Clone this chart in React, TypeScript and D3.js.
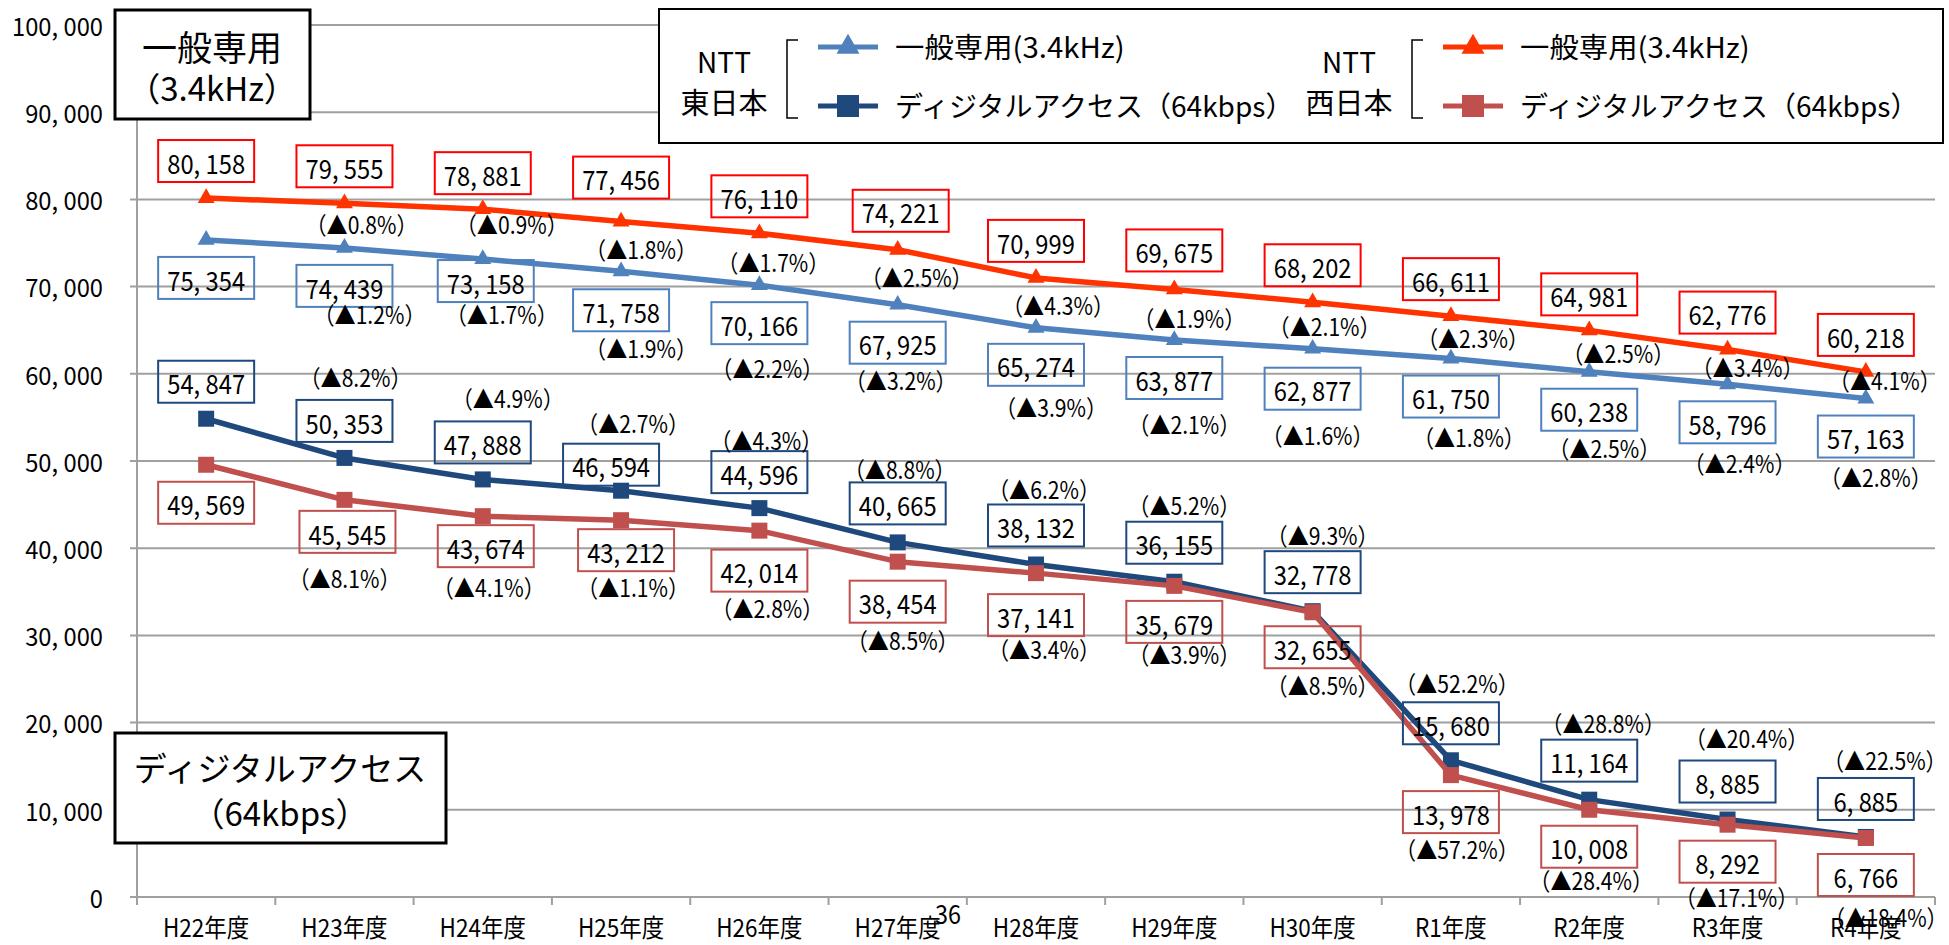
import React from "react";
import * as d3 from "d3";

const categories = ["H22年度","H23年度","H24年度","H25年度","H26年度","H27年度","H28年度","H29年度","H30年度","R1年度","R2年度","R3年度","R4年度"];
const eastGeneral = [75354,74439,73158,71758,70166,67925,65274,63877,62877,61750,60238,58796,57163];
const eastDigital = [54847,50353,47888,46594,44596,40665,38132,36155,32778,15680,11164,8885,6885];
const westGeneral = [80158,79555,78881,77456,76110,74221,70999,69675,68202,66611,64981,62776,60218];
const westDigital = [49569,45545,43674,43212,42014,38454,37141,35679,32655,13978,10008,8292,6766];
const eastGeneralPct = [null,1.2,1.7,1.9,2.2,3.2,3.9,2.1,1.6,1.8,2.5,2.4,2.8];
const eastDigitalPct = [null,8.2,4.9,2.7,4.3,8.8,6.2,5.2,9.3,52.2,28.8,20.4,22.5];
const westGeneralPct = [null,0.8,0.9,1.8,1.7,2.5,4.3,1.9,2.1,2.3,2.5,3.4,4.1];
const westDigitalPct = [null,8.1,4.1,1.1,2.8,8.5,3.4,3.9,8.5,57.2,28.4,17.1,18.4];
const yTicks = [0,10000,20000,30000,40000,50000,60000,70000,80000,90000,100000];

// label layout offsets (pixels relative to each point)
const wgValDy = [-37,-37,-36,-44,-37,-39,-37,-39,-37,-37,-36,-37,-37];
const wgValDx = [0,0,0,0,0,3,0,0,0,0,0,0,0];
const wgPctOff = [[0,0],[17,21],[29,15],[20,27],[14,29],[19,27],[22,27],[15,28],[12,24],[22,22],[29,23],[20,17],[19,8]];
const egValDy = [38,38,22,39,38,38,37,38,40,38,38,38,38];
const egValDx = [0,0,3,0,0,0,0,0,0,0,0,0,0];
const egPctOff = [[0,0],[25,66],[19,55],[20,77],[8,83],[3,75],[15,79],[10,84],[5,86],[18,78],[15,76],[12,79],[10,78]];
const edValDy = [-37,-37,-37,-26,-36,-39,-39,-39,-39,-37,-39,-38,-38];
const edValDx = [0,0,0,-10,0,0,0,0,0,0,0,0,0];
const edPctOff = [[0,0],[11,-81],[25,-82],[12,-68],[7,-68],[2,-73],[8,-76],[10,-77],[10,-76],[6,-77],[14,-77],[19,-82],[19,-77]];
const wdValDy = [38,32,30,30,40,40,42,36,35,37,37,37,37];
const wdValDx = [0,3,3,5,0,0,0,0,0,0,0,0,0];
const wdPctOff = [[0,0],[0,78],[6,71],[12,67],[8,77],[5,78],[8,76],[10,68],[10,73],[6,74],[2,70],[9,72],[20,79]];

const FONT = "'Noto Sans CJK JP', 'Noto Sans', sans-serif";

function T({ x, y, size, sx = 1, anchor = "middle", children, fill = "#000" }: any) {
  return (
    <text
      transform={`translate(${x},${y}) scale(${sx},1)`}
      fontSize={size}
      textAnchor={anchor}
      dominantBaseline="central"
      fontFamily={FONT}
      fill={fill}
    >
      {children}
    </text>
  );
}

const fmt = (v: number) => d3.format(",")(v).replace(/,/g, ", ");

export default function App() {
  const W = 1949, H = 945;
  const x = d3.scaleBand<string>().domain(categories).range([137, 1935]);
  const y = d3.scaleLinear().domain([0, 100000]).range([897, 25]);
  const cx = (i: number) => (x(categories[i]) as number) + x.bandwidth() / 2;

  const line = d3.line<number>().x((_, i) => cx(i)).y((d) => y(d));
  const tri = d3.symbol().type(d3.symbolTriangle).size(125)() as string;
  const sq = d3.symbol().type(d3.symbolSquare).size(256)() as string;
  const triL = d3.symbol().type(d3.symbolTriangle).size(230)() as string;
  const sqL = d3.symbol().type(d3.symbolSquare).size(484)() as string;

  const series = [
    { data: eastGeneral, color: "#4F81BD", box: "#4F81BD", marker: tri, pct: eastGeneralPct, vdy: egValDy, vdx: egValDx, poff: egPctOff },
    { data: westGeneral, color: "#FF3300", box: "#FF0000", marker: tri, pct: westGeneralPct, vdy: wgValDy, vdx: wgValDx, poff: wgPctOff },
    { data: eastDigital, color: "#1F497D", box: "#1F497D", marker: sq, pct: eastDigitalPct, vdy: edValDy, vdx: edValDx, poff: edPctOff },
    { data: westDigital, color: "#C0504D", box: "#C0504D", marker: sq, pct: westDigitalPct, vdy: wdValDy, vdx: wdValDx, poff: wdPctOff },
  ];

  const boxW = 96, boxH = 42;

  const legendGroups = [
    { x0: 659, top: "NTT", bottom: "東日本", c1: "#4F81BD", c2: "#1F497D" },
    { x0: 1284, top: "NTT", bottom: "西日本", c1: "#FF3300", c2: "#C0504D" },
  ];

  return (
    <svg width={W} height={H} style={{ position: "absolute", left: 0, top: 0, background: "#fff" }}>
      <rect x={0} y={0} width={W} height={H} fill="#fff" />
      {/* gridlines */}
      {yTicks.map((t) => (
        <g key={t}>
          <line x1={130} x2={1935} y1={y(t)} y2={y(t)} stroke="#A0A0A0" strokeWidth={2} />
          <T x={103} y={y(t)} size={25} sx={0.95} anchor="end">{fmt(t)}</T>
        </g>
      ))}
      {/* y axis */}
      <line x1={137} x2={137} y1={y(100000)} y2={897} stroke="#A0A0A0" strokeWidth={2} />
      {/* x ticks */}
      {d3.range(categories.length + 1).map((i) => {
        const xx = 137 + i * x.step();
        return <line key={i} x1={xx} x2={xx} y1={897} y2={905} stroke="#A0A0A0" strokeWidth={2} />;
      })}
      {categories.map((c, i) => (
        <T key={c} x={cx(i)} y={926} size={25} sx={0.9}>{c}</T>
      ))}

      {/* lines */}
      {series.map((s, k) => (
        <g key={k}>
          <path d={line(s.data) as string} fill="none" stroke={s.color} strokeWidth={5.5} strokeLinejoin="round" />
          {s.data.map((v, i) => (
            <path key={i} d={s.marker} transform={`translate(${cx(i)},${y(v)})`} fill={s.color} />
          ))}
        </g>
      ))}

      {/* labels */}
      {series.map((s, k) => (
        <g key={"l" + k}>
          {s.data.map((v, i) => {
            const bx = cx(i) + s.vdx[i];
            const by = y(v) + s.vdy[i];
            return (
              <g key={i}>
                <rect x={bx - boxW / 2} y={by - boxH / 2} width={boxW} height={boxH} fill="none" stroke={s.box} strokeWidth={2} />
                <T x={bx} y={by + 1} size={27} sx={0.88}>{fmt(v)}</T>
              </g>
            );
          })}
          {s.pct.map((p, i) =>
            p == null ? null : (
              <T key={"p" + i} x={cx(i) + s.poff[i][0]} y={y(s.data[i]) + s.poff[i][1]} size={24} sx={0.88}>
                {`（▲${p.toFixed(1)}%）`}
              </T>
            )
          )}
        </g>
      ))}

      {/* title boxes */}
      <rect x={115} y={10} width={195} height={109} fill="#fff" stroke="#000" strokeWidth={3} />
      <T x={212} y={45} size={35}>一般専用</T>
      <T x={212} y={87} size={33} sx={1.0}>（3.4kHz）</T>

      <rect x={115} y={733} width={331} height={110} fill="#fff" stroke="#000" strokeWidth={3} />
      <T x={280} y={767} size={33}>ディジタルアクセス</T>
      <T x={280} y={812} size={33} sx={1.0}>（64kbps）</T>

      {/* legend */}
      <rect x={659} y={9} width={1284} height={134} fill="#fff" stroke="#000" strokeWidth={2} />
      {legendGroups.map((g, k) => (
        <g key={k}>
          <T x={g.x0 + 65} y={61} size={28}>{g.top}</T>
          <T x={g.x0 + 65} y={101} size={29}>{g.bottom}</T>
          <path d={`M${g.x0 + 139},40 H${g.x0 + 128} V118 H${g.x0 + 139}`} fill="none" stroke="#000" strokeWidth={1.5} />
          <line x1={g.x0 + 159} x2={g.x0 + 219} y1={47} y2={47} stroke={g.c1} strokeWidth={5} />
          <path d={triL} transform={`translate(${g.x0 + 189},${47})`} fill={g.c1} />
          <line x1={g.x0 + 159} x2={g.x0 + 219} y1={106} y2={106} stroke={g.c2} strokeWidth={5} />
          <path d={sqL} transform={`translate(${g.x0 + 189},${106})`} fill={g.c2} />
          <T x={g.x0 + 236} y={46} size={28} sx={1.05} anchor="start">一般専用(3.4kHz)</T>
          <T x={g.x0 + 236} y={105} size={28} sx={1.0} anchor="start">ディジタルアクセス（64kbps）</T>
        </g>
      ))}

      {/* page number */}
      <T x={948} y={912} size={26} sx={0.9}>36</T>
    </svg>
  );
}
